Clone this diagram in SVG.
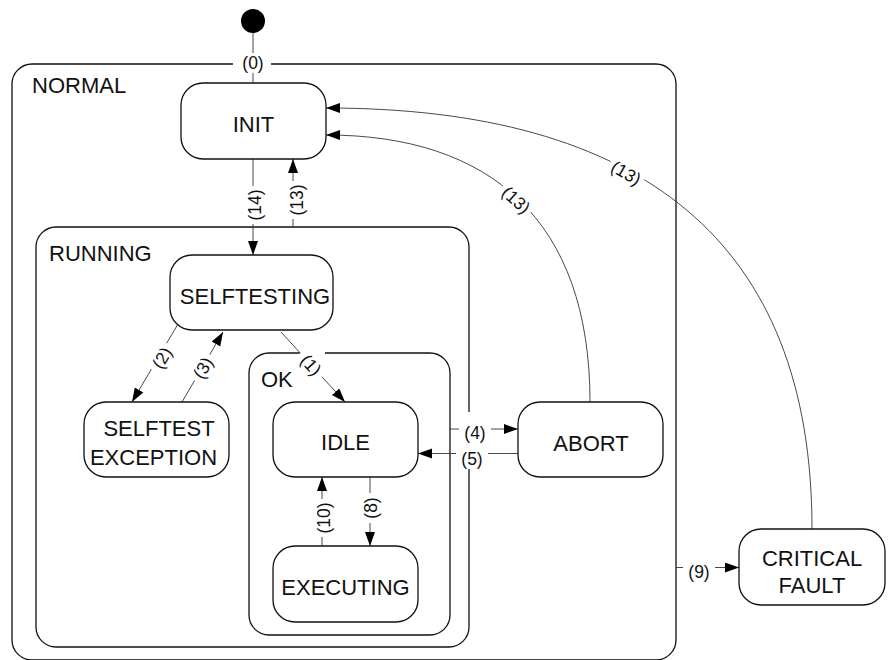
<svg xmlns="http://www.w3.org/2000/svg" width="892" height="660" viewBox="0 0 892 660">
<style>
.box{fill:none;stroke:#111;stroke-width:1.3}
.st{fill:#fff;stroke:#111;stroke-width:1.3}
.cn{fill:none;stroke:#333;stroke-width:0.9}
.arr{marker-end:url(#ah)}
.nm{font-family:"Liberation Sans",Arial,sans-serif;font-size:22px;fill:#111}
.c{text-anchor:middle}
.lb text{font-family:"Liberation Sans",Arial,sans-serif;font-size:17.5px;fill:#111;text-anchor:middle;dominant-baseline:central}
.lb rect{fill:#fff;stroke:none}
</style>
<defs>
<marker id="ah" markerUnits="userSpaceOnUse" markerWidth="15" markerHeight="11" refX="14" refY="5" orient="auto">
<path d="M0,0 L14,5 L0,10 z" fill="#000"/>
</marker>
</defs>

<!-- containers -->
<g id="normal">
<path class="box" d="M233,64 H32 A20,20 0 0 0 12,84 V640 A20,20 0 0 0 32,660 H656 A20,20 0 0 0 676,640 V84 A20,20 0 0 0 656,64 H270"/>
<text class="nm" x="32" y="93">NORMAL</text>
</g>
<g id="running">
<path class="box" d="M469,412 V247 A20,20 0 0 0 449,227 H56 A20,20 0 0 0 36,247 V627 A20,20 0 0 0 56,647 H449 A20,20 0 0 0 469,627 V468"/>
<text class="nm" x="49" y="261">RUNNING</text>
</g>
<g id="ok">
<path class="box" d="M300,353 H269 A20,20 0 0 0 249,373 V615 A20,20 0 0 0 269,635 H430 A20,20 0 0 0 450,615 V373 A20,20 0 0 0 430,353 H325"/>
<text class="nm" x="261" y="387">OK</text>
</g>

<!-- connectors -->
<g id="connectors">
<path class="cn" d="M253,33 V83"/>
<path class="cn arr" d="M253,159 V255"/>
<path class="cn arr" d="M293,227 V159"/>
<path class="cn arr" d="M178,324 L132,402"/>
<path class="cn arr" d="M182,402 L223,332"/>
<path class="cn arr" d="M281,332 L345,402"/>
<path class="cn arr" d="M450,429 H518"/>
<path class="cn arr" d="M518,453.5 H418"/>
<path class="cn arr" d="M370,477 V546"/>
<path class="cn arr" d="M322,546 V477"/>
<path class="cn arr" d="M676,567.5 H739"/>
<path class="cn arr" d="M590,402 C590,220 490,135 326,135"/>
<path class="cn arr" d="M812,529 C812,240 640,108 326,108"/>
</g>

<!-- labels -->
<g id="labels" class="lb">
<g transform="translate(253,63)"><rect x="-18" y="-10" width="36" height="20"/><text>(0)</text></g>
<g transform="translate(255,205) rotate(-90)"><rect x="-19" y="-10" width="38" height="20"/><text>(14)</text></g>
<g transform="translate(296.5,200) rotate(-90)"><rect x="-19" y="-10" width="38" height="20"/><text>(13)</text></g>
<g transform="translate(162,358) rotate(-59.5)"><rect x="-15" y="-10" width="30" height="20"/><text>(2)</text></g>
<g transform="translate(203,368) rotate(-59.5)"><rect x="-15" y="-10" width="30" height="20"/><text>(3)</text></g>
<g transform="translate(311,365) rotate(47.6)"><rect x="-16" y="-10" width="32" height="20"/><text>(1)</text></g>
<g transform="translate(475,433)"><rect x="-16" y="-10" width="32" height="20"/><text>(4)</text></g>
<g transform="translate(472,459)"><rect x="-16" y="-10" width="32" height="20"/><text>(5)</text></g>
<g transform="translate(324,518) rotate(-90)"><rect x="-19" y="-10" width="38" height="20"/><text>(10)</text></g>
<g transform="translate(371,508) rotate(-90)"><rect x="-15" y="-10" width="30" height="20"/><text>(8)</text></g>
<g transform="translate(699,572)"><rect x="-16" y="-10" width="32" height="20"/><text>(9)</text></g>
<g transform="translate(516,200) rotate(42)"><rect x="-19" y="-10" width="38" height="20"/><text>(13)</text></g>
<g transform="translate(626,173) rotate(30)"><rect x="-19" y="-10" width="38" height="20"/><text>(13)</text></g>
</g>

<!-- states -->
<g id="initial"><circle cx="253" cy="21" r="12" fill="#000"/></g>
<g id="init"><rect class="st" x="181" y="83" width="145" height="76" rx="22"/><text class="nm c" x="253.5" y="132">INIT</text></g>
<g id="selftesting"><rect class="st" x="170" y="255" width="163" height="75" rx="22"/><text class="nm c" x="255" y="304">SELFTESTING</text></g>
<g id="selftest-exception"><rect class="st" x="84" y="402" width="145" height="75" rx="22"/><text class="nm c" x="159" y="436">SELFTEST</text><text class="nm c" x="153.5" y="465">EXCEPTION</text></g>
<g id="idle"><rect class="st" x="273" y="402" width="145" height="75" rx="22"/><text class="nm c" x="345.5" y="450">IDLE</text></g>
<g id="executing"><rect class="st" x="273" y="546" width="145" height="76" rx="22"/><text class="nm c" x="345.5" y="595">EXECUTING</text></g>
<g id="abort"><rect class="st" x="518" y="402" width="145" height="75" rx="22"/><text class="nm c" x="591" y="451">ABORT</text></g>
<g id="critical-fault"><rect class="st" x="739" y="529" width="146" height="76" rx="22"/><text class="nm c" x="812" y="566">CRITICAL</text><text class="nm c" x="812" y="593">FAULT</text></g>
</svg>
